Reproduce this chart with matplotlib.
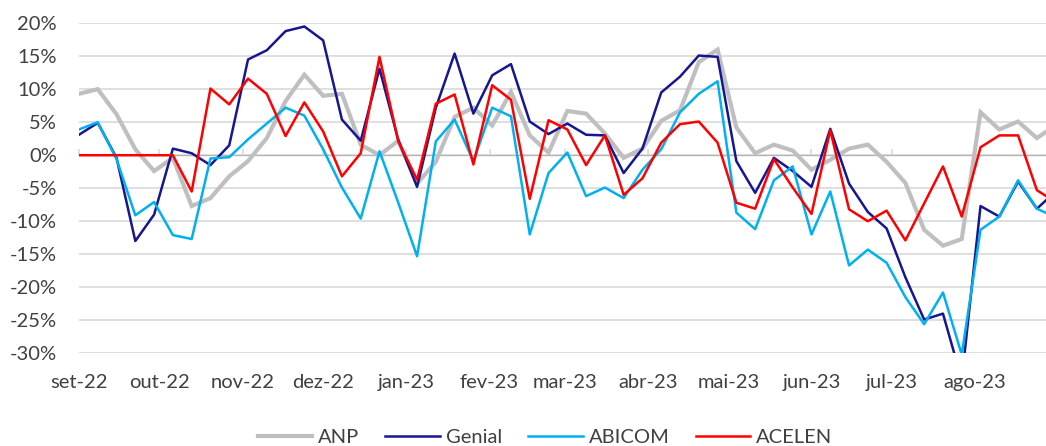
import numpy as np
import pandas as pd
import matplotlib
matplotlib.use("Agg")
import matplotlib.pyplot as plt

plt.rcParams["font.family"] = ["Lato", "DejaVu Sans"]

# weekly series, % change
dates = pd.date_range("2022-09-01", periods=53, freq="7D")

anp = [9.3, 10.0, 6.2, 0.9, -2.4, -0.4, -7.7, -6.5, -3.2, -0.9, 2.6, 8.2, 12.2, 9.0, 9.3, 1.6,
       0.0, 2.2, -4.3, -1.0, 5.8, 7.2, 4.5, 9.6, 3.0, 0.4, 6.7, 6.3, 3.3, -0.4, 1.0, 5.2, 6.8,
       14.1, 16.0, 4.2, 0.3, 1.6, 0.7, -2.2, -0.7, 1.0, 1.6, -1.0, -4.2, -11.3, -13.7, -12.7,
       6.5, 3.9, 5.1, 2.6, 4.5]
genial = [3.1, 4.9, -0.4, -13.0, -9.0, 1.0, 0.3, -1.5, 1.5, 14.5, 15.9, 18.8, 19.5, 17.4, 5.4,
          2.2, 13.1, 2.3, -4.8, 7.2, 15.4, 6.3, 12.1, 13.8, 5.1, 3.2, 4.8, 3.1, 3.0, -2.7, 1.0,
          9.5, 11.9, 15.1, 14.9, -0.9, -5.7, -0.4, -2.4, -4.8, 4.0, -4.3, -8.6, -11.1, -18.5,
          -24.9, -24.0, -34.0, -7.7, -9.3, -4.0, -8.1, -5.5]
abicom = [3.9, 5.0, -0.6, -9.1, -7.1, -12.1, -12.7, -0.5, -0.3, 2.4, 4.8, 7.2, 6.0, 0.9, -4.9,
          -9.6, 0.6, -7.2, -15.3, 2.1, 5.4, -0.9, 7.2, 5.9, -12.0, -2.7, 0.4, -6.2, -4.9, -6.5,
          -2.2, 0.9, 6.5, 9.3, 11.2, -8.7, -11.2, -3.8, -1.7, -12.0, -5.5, -16.7, -14.3, -16.3,
          -21.5, -25.6, -20.8, -30.2, -11.3, -9.3, -3.8, -8.1, -9.4]
acelen = [0, 0, 0, 0, 0, 0, -5.5, 10.1, 7.7, 11.6, 9.3, 2.9, 8.0, 3.6, -3.2, 0.3, 14.9, 2.1,
          -3.7, 7.8, 9.2, -1.4, 10.6, 8.4, -6.6, 5.3, 3.9, -1.5, 3.0, -6.0, -3.5, 1.9, 4.7, 5.1,
          1.9, -7.2, -8.1, -0.6, -4.9, -8.9, 3.8, -8.2, -10.0, -8.4, -12.9, -7.3, -1.7, -9.3,
          1.2, 3.0, 3.0, -5.3, -7.1]

month_ticks = pd.date_range("2022-09-01", "2023-08-01", freq="MS")
month_labels = ["set-22", "out-22", "nov-22", "dez-22", "jan-23", "fev-23", "mar-23",
                "abr-23", "mai-23", "jun-23", "jul-23", "ago-23"]
y_ticks = [20, 15, 10, 5, 0, -5, -10, -15, -20, -25, -30]

fig = plt.figure(figsize=(10.46, 4.46), dpi=100)
ax = fig.add_axes([0.0755, 0.208, 0.9245, 0.740])

ax.plot(dates, anp, color="#bfbfbf", lw=3.0, label="ANP", solid_joinstyle="miter")
ax.plot(dates, genial, color="#161690", lw=1.8, label="Genial")
ax.plot(dates, abicom, color="#00b0f0", lw=1.8, label="ABICOM")
ax.plot(dates, acelen, color="#ff0000", lw=1.8, label="ACELEN")

ax.set_ylim(-30, 20)
ax.set_xlim(dates[0], dates[0] + pd.Timedelta(days=360.4))
ax.set_yticks(y_ticks)
ax.set_yticklabels([f"{v}%" for v in y_ticks])
ax.grid(axis="y", color="#d9d9d9", lw=1.2)
ax.set_axisbelow(True)
for s in ax.spines.values():
    s.set_visible(False)

ax.set_xticks(month_ticks)
ax.set_xticklabels(month_labels)
ax.tick_params(axis="x", length=0, pad=15, labelsize=14.5, labelcolor="#404040")
ax.tick_params(axis="y", length=0, pad=16, labelsize=14.5, labelcolor="#404040")

# small tick marks on the zero line
sec = ax.secondary_xaxis(0.6)
sec.set_xticks(month_ticks)
sec.set_xticklabels([])
sec.spines["bottom"].set_visible(False)
sec.tick_params(axis="x", length=4, width=1.2, color="#d9d9d9", direction="out")

fig.legend(loc="lower center", bbox_to_anchor=(0.521, -0.04), ncol=4, frameon=False,
           fontsize=14.5, handlelength=2.7, handletextpad=0.3, columnspacing=1.3,
           labelcolor="#404040")

fig.savefig("out.png", dpi=100)
